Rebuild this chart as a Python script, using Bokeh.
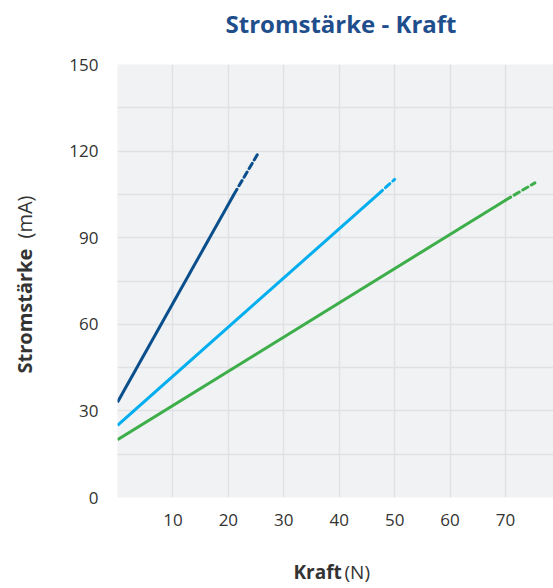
from bokeh.plotting import figure
from bokeh.models import FixedTicker, Range1d, Title
from bokeh.embed import file_html
from bokeh.resources import INLINE

# Data (Kraft in N, Stromstärke in mA)
kraft_dunkel = [0, 21]
strom_dunkel = [33, 105]
kraft_dunkel_ext = [21, 25.3]
strom_dunkel_ext = [105, 119]

kraft_hell = [0, 47]
strom_hell = [25, 105]
kraft_hell_ext = [47, 50]
strom_hell_ext = [105, 110.2]

kraft_gruen = [0, 70]
strom_gruen = [20, 103]
kraft_gruen_ext = [70, 75.3]
strom_gruen_ext = [103, 109]

x_ticks = [10, 20, 30, 40, 50, 60, 70]
y_ticks = [0, 30, 60, 90, 120, 150]
y_minor = [15, 45, 75, 105, 135]

FONT = "Open Sans"
TXT = "#333333"

p = figure(width=553, height=588, output_backend="svg", toolbar_location=None,
           x_range=Range1d(0, 78.66), y_range=Range1d(0, 150),
           min_border_left=117, min_border_right=0, min_border_top=64,
           min_border_bottom=91)

p.background_fill_color = "#F1F2F4"
p.border_fill_color = "white"
p.outline_line_color = None

p.title.text = "Stromstärke - Kraft"
p.title.align = "left"
p.title.offset = 108
p.title.vertical_align = "top"
p.title.standoff = -116
p.title.text_font = FONT
p.title.text_font_size = "24px"
p.title.text_font_style = "bold"
p.title.text_color = "#1F4E8C"

p.xaxis.ticker = FixedTicker(ticks=x_ticks)
p.yaxis.ticker = FixedTicker(ticks=y_ticks, minor_ticks=y_minor)
for ax in (p.xaxis, p.yaxis):
    ax.axis_line_color = None
    ax.major_tick_line_color = None
    ax.minor_tick_line_color = None
    ax.major_tick_out = 0
    ax.minor_tick_out = 0
    ax.major_label_text_font = FONT
    ax.major_label_text_font_size = "17px"
    ax.major_label_text_color = TXT
p.yaxis.major_label_standoff = 19
p.xaxis.major_label_standoff = 16

GRID = "#E0E1E4"
p.xgrid.grid_line_color = GRID
p.xgrid.grid_line_width = 1.5
p.ygrid.grid_line_color = GRID
p.ygrid.grid_line_width = 1.5
p.ygrid.minor_grid_line_color = GRID
p.ygrid.minor_grid_line_width = 1.5

DARK = "#0A4F8C"
LIGHT = "#00AEEF"
GREEN = "#3DAE49"
for xs, ys, xe, ye, c in [
    (kraft_dunkel, strom_dunkel, kraft_dunkel_ext, strom_dunkel_ext, DARK),
    (kraft_hell, strom_hell, kraft_hell_ext, strom_hell_ext, LIGHT),
    (kraft_gruen, strom_gruen, kraft_gruen_ext, strom_gruen_ext, GREEN),
]:
    p.line(xs, ys, line_color=c, line_width=3)
    p.line(xe, ye, line_color=c, line_width=3, line_dash="6 4", line_cap="round")

# axis titles: bold part + normal unit part on the same line
AX_SO_X = -113
AX_SO_Y = -112
p.add_layout(Title(text="Kraft", align="left", offset=176, standoff=AX_SO_X,
                   vertical_align="bottom", text_font=FONT, text_font_size="19px",
                   text_font_style="bold", text_color=TXT), "below")
p.add_layout(Title(text="(N)", align="left", offset=227, standoff=AX_SO_X,
                   vertical_align="bottom", text_font=FONT, text_font_size="19px",
                   text_font_style="normal", text_color=TXT), "below")
p.add_layout(Title(text="Stromstärke", align="left", offset=124, standoff=AX_SO_Y,
                   vertical_align="top", text_font=FONT, text_font_size="20px",
                   text_font_style="bold", text_color=TXT), "left")
p.add_layout(Title(text="(mA)", align="left", offset=259, standoff=AX_SO_Y,
                   vertical_align="top", text_font=FONT, text_font_size="20px",
                   text_font_style="normal", text_color=TXT), "left")

open("out.html", "w").write(file_html(p, INLINE))
